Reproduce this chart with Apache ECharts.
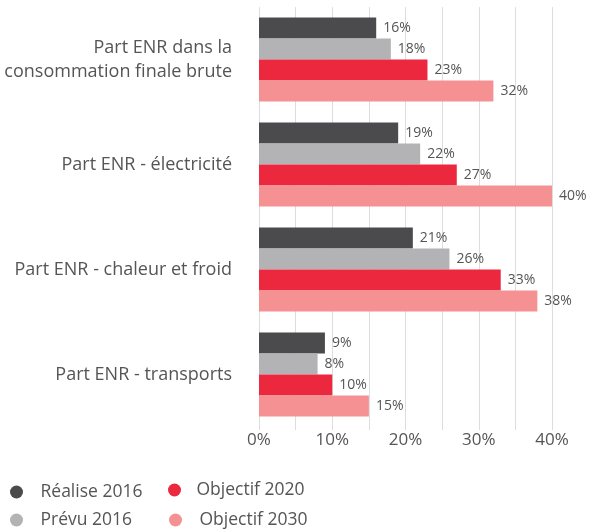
<!DOCTYPE html>
<html>
<head>
<meta charset="utf-8">
<script src="https://cdn.jsdelivr.net/npm/echarts@6/dist/echarts.min.js"></script>
<style>
  html, body { margin: 0; padding: 0; background: #fff; }
  #chart { width: 590px; height: 530px; }
</style>
</head>
<body>
<div id="chart"></div>
<script>
// categories, top to bottom
const categories = [
  "Part ENR dans la\nconsommation finale brute",
  "Part ENR - électricité",
  "Part ENR - chaleur et froid",
  "Part ENR - transports"
];
// values in %
const realise2016 = [16, 19, 21, 9];
const prevu2016 = [18, 22, 26, 8];
const objectif2020 = [23, 27, 33, 10];
const objectif2030 = [32, 40, 38, 15];
const xTicks = [0, 10, 20, 30, 40];

const font = "Open Sans";
const textColor = "#555";

function makeBar(name, data, color) {
  return {
    name: name,
    type: "bar",
    data: data,
    barWidth: 21,
    barGap: "0%",
    itemStyle: { color: color },
    label: {
      show: true,
      position: "right",
      distance: 7,
      formatter: "{c}%",
      color: textColor,
      fontFamily: font,
      fontSize: 14
    }
  };
}

// one legend per entry so the 2x2 layout matches
function legendItem(name, left, top, gap) {
  return {
    left: left, top: top, padding: 0,
    icon: "circle", itemWidth: 24, itemHeight: 13,
    data: [name],
    formatter: "{t|{name}}",
    textStyle: {
      rich: {
        t: { color: textColor, fontFamily: font, fontSize: 17.5, padding: [0, 0, 0, gap] }
      }
    }
  };
}

function initChart() {
  const chart = echarts.init(document.getElementById("chart"));
  const option = {
    animation: false,
    grid: { left: 259, right: 38, top: 7, bottom: 103 },
    legend: [
      legendItem("Réalise 2016", 10, 483, 7),
      legendItem("Prévu 2016", 10, 511, 7),
      legendItem("Objectif 2020", 168, 481, 5),
      legendItem("Objectif 2030", 169, 511, 7)
    ],
    xAxis: {
      type: "value",
      min: xTicks[0],
      max: xTicks[xTicks.length - 1],
      interval: 10,
      axisLine: { show: false },
      axisTick: { show: true, length: 3, lineStyle: { color: "#ddd" } },
      minorTick: { show: true, splitNumber: 2, length: 3, lineStyle: { color: "#ddd" } },
      splitLine: { show: true, lineStyle: { color: "#ddd" } },
      minorSplitLine: { show: true, lineStyle: { color: "#ddd" } },
      axisLabel: {
        formatter: "{value}%",
        color: textColor,
        fontFamily: font,
        fontSize: 17,
        margin: 5
      }
    },
    yAxis: {
      type: "category",
      data: categories,
      inverse: true,
      axisLine: { show: false },
      axisTick: { show: false },
      axisLabel: {
        color: textColor,
        fontFamily: font,
        fontSize: 18,
        lineHeight: 24,
        align: "right",
        margin: 27
      }
    },
    series: [
      makeBar("Réalise 2016", realise2016, "#4b4b4e"),
      makeBar("Prévu 2016", prevu2016, "#b3b3b6"),
      makeBar("Objectif 2020", objectif2020, "#ec283e"),
      makeBar("Objectif 2030", objectif2030, "#f59193")
    ]
  };
  chart.setOption(option);
}

initChart();
</script>
</body>
</html>
